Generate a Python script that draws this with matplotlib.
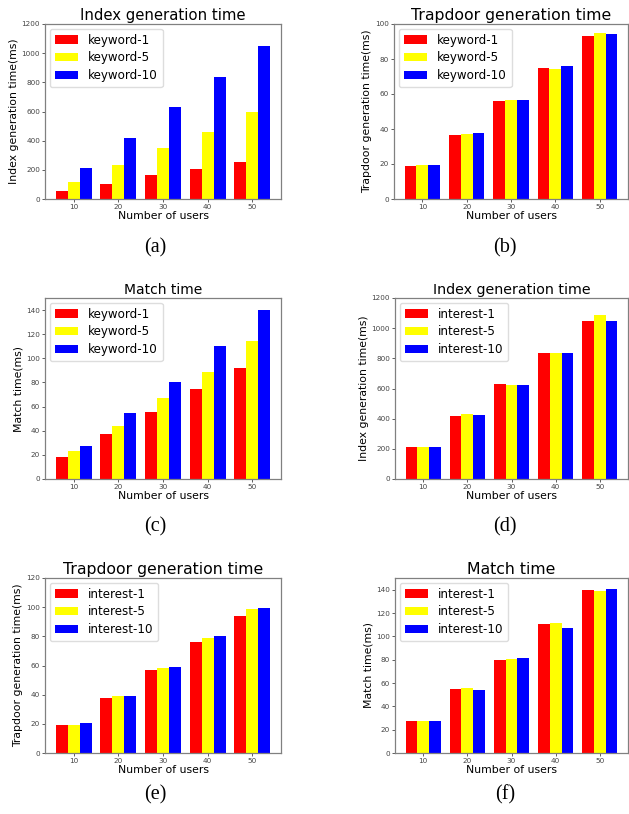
import numpy as np
import matplotlib
matplotlib.use("Agg")
import matplotlib.pyplot as plt

# ------------------------------------------------------------------
# Data
# ------------------------------------------------------------------
users = [10, 20, 30, 40, 50]

kw_labels = ["keyword-1", "keyword-5", "keyword-10"]
in_labels = ["interest-1", "interest-5", "interest-10"]

# (a) index generation time, keywords
kw_index_1 = [52, 105, 162, 205, 256]
kw_index_5 = [119, 233, 352, 459, 596]
kw_index_10 = [212, 418, 632, 836, 1048]

# (b) trapdoor generation time, keywords
kw_trap_1 = [18.9, 36.8, 56.2, 74.9, 93.0]
kw_trap_5 = [19.2, 37.3, 56.8, 74.5, 94.9]
kw_trap_10 = [19.6, 37.5, 56.8, 76.0, 94.5]

# (c) match time, keywords
kw_match_1 = [18.5, 37.0, 55.8, 74.9, 92.0]
kw_match_5 = [22.9, 44.2, 66.8, 88.4, 114.4]
kw_match_10 = [27.3, 54.7, 80.4, 110.5, 140.0]

# (d) index generation time, interests
in_index_1 = [210, 418, 630, 838, 1050]
in_index_5 = [210, 429, 625, 838, 1087]
in_index_10 = [210, 424, 625, 838, 1047]

# (e) trapdoor generation time, interests
in_trap_1 = [19.4, 37.5, 56.9, 75.9, 94.2]
in_trap_5 = [19.4, 38.9, 58.3, 79.1, 99.0]
in_trap_10 = [20.8, 39.3, 59.2, 80.0, 99.2]

# (f) match time, interests
in_match_1 = [27.4, 54.5, 80.1, 110.4, 140.0]
in_match_5 = [27.1, 55.9, 80.7, 111.2, 138.6]
in_match_10 = [27.1, 53.9, 81.6, 106.9, 140.9]

colors = ["red", "yellow", "blue"]

W, H = 629, 814
fig = plt.figure(figsize=(W / 100, H / 100), dpi=100)


def px_axes(l, t, r, b):
    return fig.add_axes([l / W, 1 - b / H, (r - l) / W, (b - t) / H])


def panel(box, series, labels, title, ylabel, ylim, yticks, caption, cap_xy,
          title_size=11):
    ax = px_axes(*box)
    x = np.array(users, dtype=float)
    w = 2.67
    for i, (vals, lab, c) in enumerate(zip(series, labels, colors)):
        ax.bar(x + (i - 1) * w, vals, width=w, color=c, label=lab)
    ax.set_xticks(users)
    ax.set_ylim(*ylim)
    ax.set_yticks(yticks)
    ax.tick_params(labelsize=5.2, length=2, width=0.6, colors="#444444",
                   pad=1.5)
    for s in ax.spines.values():
        s.set_color("#808080")
        s.set_linewidth(0.9)
    ax.set_title(title, fontsize=title_size, pad=3)
    ax.set_xlabel("Number of users", fontsize=7.8, labelpad=1)
    ax.set_ylabel(ylabel, fontsize=7.8, labelpad=2)
    ax.legend(loc="upper left", fontsize=8.6, handlelength=2.0,
              handleheight=0.7, borderaxespad=0.4, framealpha=1,
              edgecolor="#dddddd", labelspacing=0.4)
    fig.text(cap_xy[0] / W, 1 - cap_xy[1] / H, caption, ha="center",
             va="center", fontsize=14.5, family="Liberation Serif")
    return ax


panel((45, 24, 281, 199), [kw_index_1, kw_index_5, kw_index_10], kw_labels,
      "Index generation time", "Index generation time(ms)", (0, 1200),
      range(0, 1201, 200), "(a)", (155, 248), title_size=10.7)
panel((394, 24, 628, 199), [kw_trap_1, kw_trap_5, kw_trap_10], kw_labels,
      "Trapdoor generation time", "Trapdoor generation time(ms)", (0, 100),
      range(0, 101, 20), "(b)", (505, 248), title_size=11.3)
panel((45, 298, 281, 479), [kw_match_1, kw_match_5, kw_match_10], kw_labels,
      "Match time", "Match time(ms)", (0, 150),
      range(0, 141, 20), "(c)", (155, 527), title_size=10)
panel((395, 298, 628, 479), [in_index_1, in_index_5, in_index_10], in_labels,
      "Index generation time", "Index generation time(ms)", (0, 1200),
      range(0, 1201, 200), "(d)", (505, 527), title_size=10.3)
panel((45, 578, 281, 753), [in_trap_1, in_trap_5, in_trap_10], in_labels,
      "Trapdoor generation time", "Trapdoor generation time(ms)", (0, 120),
      range(0, 121, 20), "(e)", (155, 795), title_size=11.3)
panel((395, 578, 628, 753), [in_match_1, in_match_5, in_match_10], in_labels,
      "Match time", "Match time(ms)", (0, 150),
      range(0, 141, 20), "(f)", (505, 795), title_size=11.3)

fig.savefig("out.png", dpi=100)
